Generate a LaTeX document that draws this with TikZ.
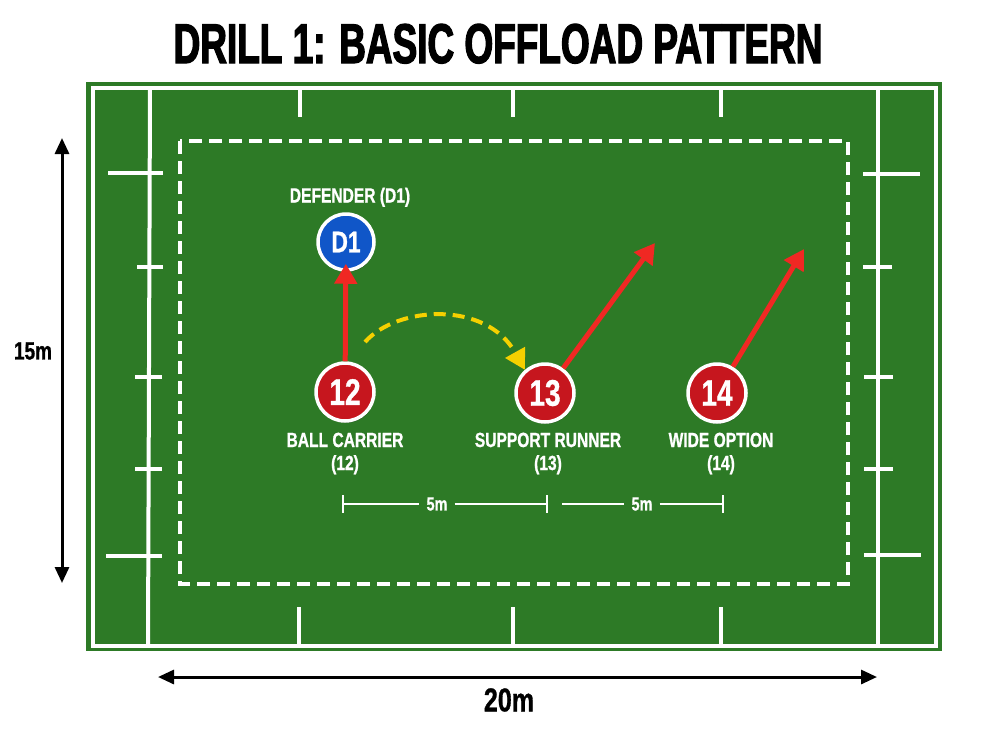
\documentclass[tikz,border=0pt]{standalone}
\usepackage{fontspec}
\usetikzlibrary{arrows.meta,shadows}
\newfontfamily\titlef{Liberation Sans}[FakeStretch=0.66,FakeBold=2.2]
\newfontfamily\labf{Liberation Sans}[FakeStretch=0.76,FakeBold=0.9]
\definecolor{fieldgreen}{RGB}{45,122,38}
\definecolor{playerred}{RGB}{198,22,30}
\definecolor{arrowred}{RGB}{240,40,35}
\definecolor{defblue}{RGB}{16,86,200}
\definecolor{ballyellow}{RGB}{245,208,0}
\tikzset{
  fieldline/.style={draw=white, line width=4pt},
  zonebox/.style={draw=white, line width=3.5pt, dash pattern=on 13pt off 7pt},
  player/.style={circle, draw=white, line width=3.5pt, minimum size=58pt, inner sep=0pt,
    text=white, font=\labf\bfseries\fontsize{37}{37}\selectfont,
    drop shadow={shadow xshift=1pt, shadow yshift=-2pt, opacity=0.3, fill=black}},
  redplayer/.style={player, fill=playerred},
  defplayer/.style={player, fill=defblue, minimum size=56pt, font=\labf\bfseries\fontsize{30}{30}\selectfont},
  lab/.style={text=white, inner sep=0pt, align=center,
    font=\labf\bfseries\fontsize{20.5}{23}\selectfont},
  runarrow/.style={draw=arrowred, line width=5pt, -{Triangle[length=20pt,width=22pt]}},
  passarrow/.style={draw=ballyellow, line width=4pt, dash pattern=on 12pt off 7pt,
    -{Triangle[length=20pt,width=22pt]}},
  dimline/.style={draw=white, line width=2.5pt},
  dimtxt/.style={text=white, inner xsep=7pt, inner ysep=0pt,
    font=\labf\bfseries\fontsize{19}{19}\selectfont},
  measarrow/.style={draw=black, line width=3pt,
    {Triangle[length=16pt,width=14pt]}-{Triangle[length=16pt,width=14pt]}},
  meastxt/.style={text=black, inner sep=0pt, font=\labf\bfseries\fontsize{25}{25}\selectfont},
}
\begin{document}
\begin{tikzpicture}[x=1pt,y=-1pt]
\useasboundingbox (0,0) rectangle (1000,750);
\fill[white] (0,0) rectangle (1000,750);

% title
\node[text=black, inner sep=0pt, anchor=base, font=\titlef\bfseries\fontsize{56}{56}\selectfont]
  (title) at (498,63) {DRILL 1: BASIC OFFLOAD PATTERN};

% field
\fill[fieldgreen] (86,82) rectangle (942,651);
\draw[fieldline] (93,88) rectangle (936,646);
\draw[fieldline] (150,88) -- (148,646);
\draw[fieldline] (878,88) -- (878,646);
% left ticks
\draw[fieldline] (108,173) -- (163,173);
\draw[fieldline] (137,267) -- (163,267);
\draw[fieldline] (135,377) -- (162,377);
\draw[fieldline] (135,469) -- (162,469);
\draw[fieldline] (106,556) -- (162,556);
% right ticks
\draw[fieldline] (863,174) -- (920,174);
\draw[fieldline] (863,267) -- (892,267);
\draw[fieldline] (864,377) -- (893,377);
\draw[fieldline] (864,469) -- (893,469);
\draw[fieldline] (864,555) -- (921,555);
% top and bottom ticks
\draw[fieldline] (300,88) -- (300,117);
\draw[fieldline] (513,88) -- (513,117);
\draw[fieldline] (721,88) -- (721,117);
\draw[fieldline] (299,607) -- (299,646);
\draw[fieldline] (513,607) -- (513,646);
\draw[fieldline] (721,607) -- (721,646);

% dashed drill zone
\draw[zonebox] (180,141) rectangle (848,584);

% outer measurements
\coordinate (v1) at (62,138);
\coordinate (v2) at (62,583);
\draw[measarrow] (v1) -- (v2);
\node[meastxt] (m15) at (33,351) {15m};
\coordinate (h1) at (158,677);
\coordinate (h2) at (877,677);
\draw[measarrow] (h1) -- (h2);
\node[meastxt, font=\labf\bfseries\fontsize{33}{33}\selectfont] (m20) at (509,700) {20m};

% inner spacing measurements
\coordinate (a1) at (343,504);
\coordinate (b1) at (547,504);
\node[dimtxt] (s1) at (437,504) {5m};
\draw[dimline] (a1) -- (s1.west);
\draw[dimline] (s1.east) -- (b1);
\draw[dimline] ([yshift=9pt]a1) -- ([yshift=-9pt]a1);
\draw[dimline] ([yshift=9pt]b1) -- ([yshift=-9pt]b1);
\coordinate (a2) at (562,504);
\coordinate (b2) at (723,504);
\node[dimtxt] (s2) at (642,504) {5m};
\draw[dimline] (a2) -- (s2.west);
\draw[dimline] (s2.east) -- (b2);
\draw[dimline] ([yshift=9pt]b2) -- ([yshift=-9pt]b2);

% players
\node[defplayer] (d1) at (346,242) {D1};
\node[redplayer] (p12) at (345,392) {12};
\node[redplayer] (p13) at (545,393) {13};
\node[redplayer] (p14) at (717,393) {14};

% labels
\node[lab, anchor=base] (ld1) at (350,202.5) {DEFENDER (D1)};
\node[lab, anchor=north] (l12) at (345,432.5) {BALL CARRIER\\(12)};
\node[lab, anchor=north] (l13) at (548,432.5) {SUPPORT RUNNER\\(13)};
\node[lab, anchor=north] (l14) at (721,432.5) {WIDE OPTION\\(14)};

% runs
\coordinate (t13) at (655,243);
\coordinate (t14) at (804,249);
\draw[runarrow, shorten >=-8pt] (p12) -- (d1);
\draw[runarrow] (p13) -- (t13);
\draw[runarrow] (p14) -- (t14);

% pass
\draw[passarrow] ([shift={(20,-50)}]p12.center) .. controls (397,306) and (486,300) .. (p13.131);
\end{tikzpicture}
\end{document}
